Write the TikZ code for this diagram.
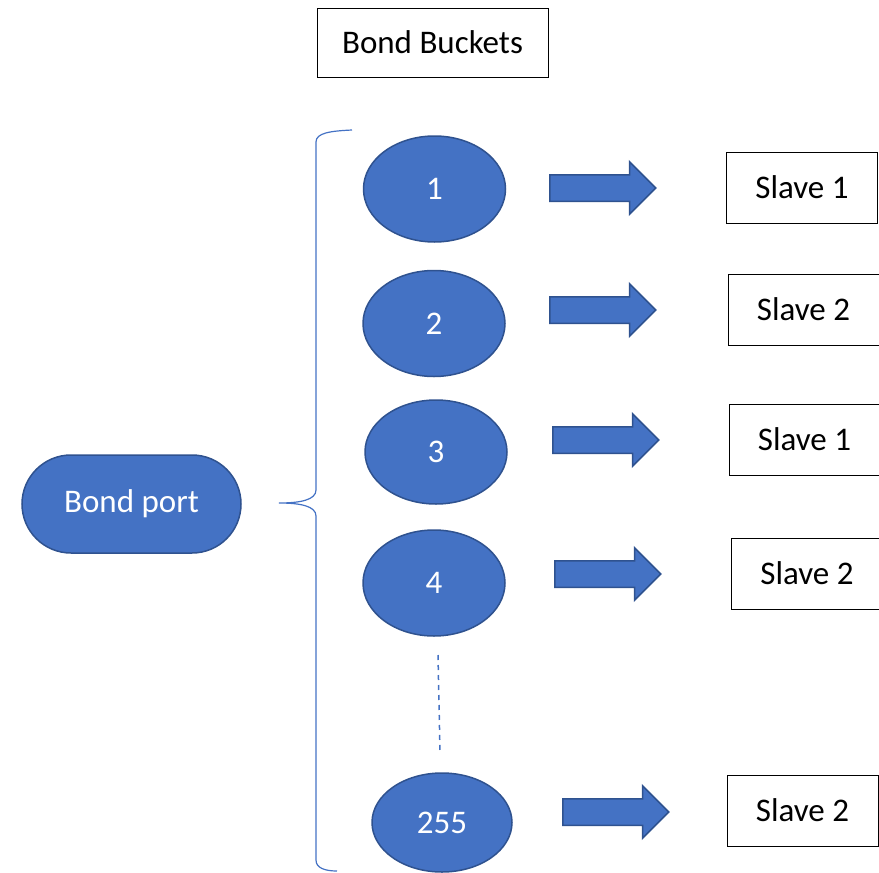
\documentclass[tikz,border=0pt]{standalone}
\usepackage{fontspec}
\setmainfont{Carlito}
\usepackage{xcolor}
\definecolor{bucket-blue}{RGB}{68,114,196}
\definecolor{bucket-edge}{RGB}{47,82,143}
\usetikzlibrary{shapes.geometric,shapes.arrows,shapes.misc}

\begin{document}
\begin{tikzpicture}	[x=1pt,y=-1pt,
	bucket/.style={ellipse,fill=bucket-blue,draw=bucket-edge,line width=1.5pt,
		minimum width=142pt,minimum height=106pt,inner sep=0pt,text=white},
	push/.style={single arrow,fill=bucket-blue,draw=bucket-edge,line width=1.5pt,
		minimum height=106pt,inner xsep=0pt,inner ysep=12.5pt,
		single arrow head extend=13pt,anchor=tail},
	slavebox/.style={draw,line width=1pt,minimum width=151pt,minimum height=71pt},
	font=\fontsize{33}{36}\selectfont]
	
	\useasboundingbox (0,0) rectangle (879,873);
	
	\node[draw,line width=1pt,minimum width=231pt,minimum height=69pt]
		(T) at (432.5,42.5) {Bond Buckets};
	
	\node[rounded rectangle,fill=bucket-blue,draw=bucket-edge,line width=1.5pt,
		minimum width=219pt,minimum height=98pt,inner sep=0pt,text=white]
		(P) at (131.5,504) {Bond port};
	
	% the buckets
	\node[bucket] (B1) at (434.5,189) {1};
	\node[bucket] (B2) at (434,323.5) {2};
	\node[bucket,minimum height=104pt] (B3) at (436,452) {3};
	\node[bucket] (B4) at (434,583) {4};
	\node[bucket,minimum width=140pt,minimum height=99pt] (B255) at (442,822.5) {255};
	
	% the slaves
	\node[slavebox] (S1) at (802,187.5) {Slave 1};
	\node[slavebox] (S2) at (803.5,309.5) {Slave 2};
	\node[slavebox] (S3) at (804.5,439.5) {Slave 1};
	\node[slavebox] (S4) at (807,573.5) {Slave 2};
	\node[slavebox] (S255) at (802.5,810.5) {Slave 2};
	
	% block arrows between them
	\node[push] (A1) at (549,188) {};
	\node[push] (A2) at (549,310) {};
	\node[push] (A3) at (552,440) {};
	\node[push] (A4) at (554,574) {};
	\node[push] (A255) at (562,812) {};
	
	% dots between 4 and 255
	\coordinate (D1) at (438,655);
	\coordinate (D2) at (440,752);
	\draw[bucket-blue,line width=1.5pt,dash pattern=on 5pt off 5pt] (D1) -- (D2);
	
	% the brace
	\coordinate (U) at (352,130);
	\coordinate (M) at (279,503);
	\coordinate (L) at (337,871);
	\draw[bucket-blue,line width=1.2pt]
		(U) .. controls (330,131) and (316,133) .. (316,142)
		-- (316,490) .. controls (316,500) and (300,503) .. (M)
		.. controls (300,503) and (316,506) .. (316,516)
		-- (316,860) .. controls (316,868) and (325,871) .. (L);
	
\end{tikzpicture}
\end{document}
